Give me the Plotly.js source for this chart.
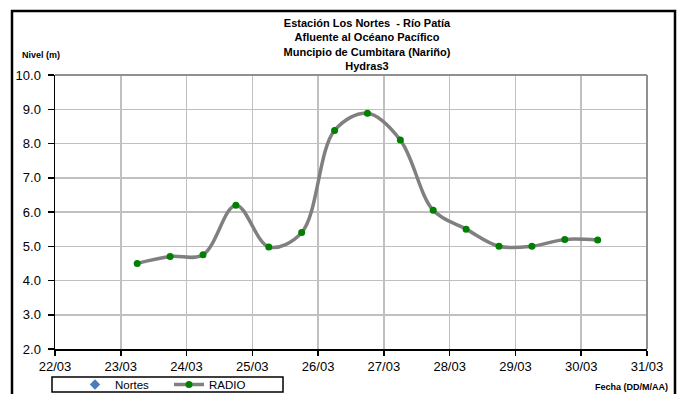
<!DOCTYPE html>
<html>
<head>
<meta charset="utf-8">
<script src="https://cdn.plot.ly/plotly-3.0.1.min.js"></script>
<style>html,body{margin:0;padding:0;background:#fff;}#chart{width:682px;height:394px;}</style>
</head>
<body>
<div id="chart"></div>
<script>
// Data
const radioDates = [
  '2023-03-23 06:00','2023-03-23 18:00','2023-03-24 06:00','2023-03-24 18:00',
  '2023-03-25 06:00','2023-03-25 18:00','2023-03-26 06:00','2023-03-26 18:00',
  '2023-03-27 06:00','2023-03-27 18:00','2023-03-28 06:00','2023-03-28 18:00',
  '2023-03-29 06:00','2023-03-29 18:00','2023-03-30 06:00'
];
const radioLevels = [4.50, 4.70, 4.75, 6.20, 4.98, 5.40, 8.38, 8.88, 8.10, 6.05, 5.50, 5.00, 5.00, 5.20, 5.18];
// The Nortes series has no readings shown in the chart (legend entry only)
const nortesDates = ['2023-03-23 06:00'];
const nortesLevels = [null];
const xRange = ['2023-03-22', '2023-03-31'];
const yRange = [2, 10];
const titleLines = ['Estación Los Nortes  - Río Patía', 'Afluente al Océano Pacífico', 'Muncipio de Cumbitara (Nariño)', 'Hydras3'];
const yLabel = 'Nivel (m)';
const xLabel = 'Fecha (DD/M/AA)';

const FONT = '"Liberation Sans", Arial, sans-serif';

const traces = [
  {
    type: 'scatter', mode: 'markers', name: 'Nortes',
    x: nortesDates, y: nortesLevels,
    marker: {symbol: 'diamond', color: '#4a7ebb', size: 8}
  },
  {
    type: 'scatter', mode: 'lines+markers', name: 'RADIO',
    x: radioDates, y: radioLevels,
    line: {shape: 'spline', smoothing: 1, color: '#808080', width: 3.5},
    marker: {color: '#008000', size: 7}
  }
];

const W = 682, H = 394;
const L = 55, R = 35, T = 75, B = 45;
const PW = W - L - R, PH = H - T - B;
const px = v => (v - L) / PW;
const py = v => (H - B - v) / PH;

const layout = {
  width: W, height: H,
  margin: {l: L, r: R, t: T, b: B, pad: 0, autoexpand: false},
  paper_bgcolor: '#ffffff', plot_bgcolor: '#ffffff',
  font: {family: FONT, color: '#000000', size: 13},
  title: {
    text: titleLines.map(s => '<b>' + s + '</b>').join('<br>'),
    font: {family: FONT, size: 11, color: '#000000'},
    xref: 'container', x: 367 / W, xanchor: 'center',
    yref: 'container', y: 1 - 27 / H, yanchor: 'top',
    automargin: false
  },
  showlegend: true,
  legend: {
    orientation: 'h', xref: 'container', yref: 'container',
    x: 75 / W, xanchor: 'left', y: 1 - 384.5 / H, yanchor: 'middle',
    bgcolor: 'rgba(0,0,0,0)', borderwidth: 0,
    font: {family: FONT, size: 11.5, color: '#000000'},
    entrywidth: 49, entrywidthmode: 'pixels', itemclick: false
  },
  xaxis: {
    type: 'date', range: xRange, dtick: 86400000, tick0: '2023-03-22',
    tickformat: '%d/%m', ticks: 'outside', ticklen: 5, tickwidth: 1.5, tickcolor: '#000000',
    showline: true, linecolor: '#000000', linewidth: 1.5,
    showgrid: true, gridcolor: '#c0c0c0', gridwidth: 1.5,
    tickfont: {family: FONT, size: 13, color: '#000000'},
    zeroline: false, fixedrange: true, automargin: false
  },
  yaxis: {
    range: yRange, dtick: 1, tick0: 2, tickformat: '.1f',
    ticks: 'outside', ticklen: 6, tickwidth: 1.5, tickcolor: '#000000', ticklabelstandoff: 4,
    showline: true, linecolor: '#000000', linewidth: 1.5,
    showgrid: true, gridcolor: '#c0c0c0', gridwidth: 1.5,
    tickfont: {family: FONT, size: 13, color: '#000000'},
    zeroline: false, fixedrange: true, automargin: false
  },
  shapes: [
    {type: 'line', xref: 'paper', yref: 'paper', x0: 0, x1: 1, y0: 1, y1: 1, line: {color: '#909090', width: 2}},
    {type: 'line', xref: 'paper', yref: 'paper', x0: 1, x1: 1, y0: 0, y1: 1, line: {color: '#909090', width: 2}},
    {type: 'rect', xref: 'paper', yref: 'paper', x0: px(52), x1: px(283), y0: py(392), y1: py(377), line: {color: '#000000', width: 1.5}},
    {type: 'rect', xref: 'paper', yref: 'paper', x0: px(12), x1: px(675), y0: py(398), y1: py(11), line: {color: '#000000', width: 2.5}}
  ],
  annotations: [
    {text: '<b>' + yLabel + '</b>', xref: 'paper', yref: 'paper', x: px(20), y: py(55), xanchor: 'left', yanchor: 'middle', showarrow: false, font: {family: FONT, size: 9, color: '#000000'}},
    {text: '<b>' + xLabel + '</b>', xref: 'paper', yref: 'paper', x: px(670), y: py(387), xanchor: 'right', yanchor: 'middle', showarrow: false, font: {family: FONT, size: 9, color: '#000000'}}
  ]
};

Plotly.newPlot('chart', traces, layout, {displayModeBar: false, staticPlot: true});
</script>
</body>
</html>
